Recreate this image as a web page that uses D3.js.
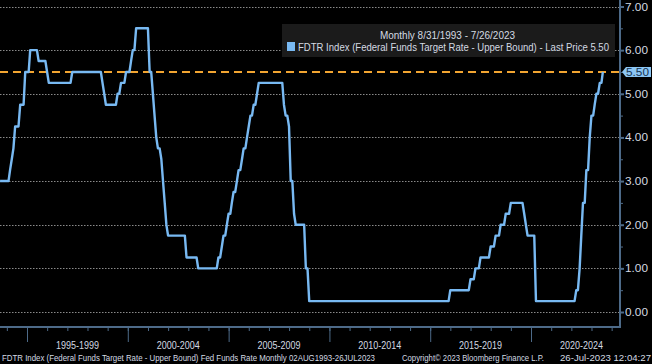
<!DOCTYPE html>
<html>
<head>
<meta charset="utf-8">
<script src="https://cdn.jsdelivr.net/npm/d3@7"></script>
<style>
  html, body { margin: 0; padding: 0; background: #000; }
  svg { display: block; }
  text { font-family: "Liberation Sans", "DejaVu Sans", sans-serif; }
</style>
</head>
<body>
<div id="chart"></div>
<script>
// FDTR month-end values, Aug 1993 .. Jul 2023 (one line per year)
var fdtr = [
  3.00, 3.00, 3.00, 3.00, 3.00,
  3.00, 3.25, 3.50, 3.75, 4.25, 4.25, 4.25, 4.75, 4.75, 4.75, 5.50, 5.50,
  5.50, 6.00, 6.00, 6.00, 6.00, 6.00, 5.75, 5.75, 5.75, 5.75, 5.75, 5.50,
  5.25, 5.25, 5.25, 5.25, 5.25, 5.25, 5.25, 5.25, 5.25, 5.25, 5.25, 5.25,
  5.25, 5.25, 5.50, 5.50, 5.50, 5.50, 5.50, 5.50, 5.50, 5.50, 5.50, 5.50,
  5.50, 5.50, 5.50, 5.50, 5.50, 5.50, 5.50, 5.50, 5.25, 5.00, 4.75, 4.75,
  4.75, 4.75, 4.75, 4.75, 4.75, 5.00, 5.00, 5.25, 5.25, 5.25, 5.50, 5.50,
  5.50, 5.75, 6.00, 6.00, 6.50, 6.50, 6.50, 6.50, 6.50, 6.50, 6.50, 6.50,
  5.50, 5.50, 5.00, 4.50, 4.00, 3.75, 3.75, 3.50, 3.00, 2.50, 2.00, 1.75,
  1.75, 1.75, 1.75, 1.75, 1.75, 1.75, 1.75, 1.75, 1.75, 1.75, 1.25, 1.25,
  1.25, 1.25, 1.25, 1.25, 1.25, 1.00, 1.00, 1.00, 1.00, 1.00, 1.00, 1.00,
  1.00, 1.00, 1.00, 1.00, 1.00, 1.25, 1.25, 1.50, 1.75, 1.75, 2.00, 2.25,
  2.25, 2.50, 2.75, 2.75, 3.00, 3.25, 3.25, 3.50, 3.75, 3.75, 4.00, 4.25,
  4.50, 4.50, 4.75, 4.75, 5.00, 5.25, 5.25, 5.25, 5.25, 5.25, 5.25, 5.25,
  5.25, 5.25, 5.25, 5.25, 5.25, 5.25, 5.25, 5.25, 4.75, 4.50, 4.50, 4.25,
  3.00, 3.00, 2.25, 2.00, 2.00, 2.00, 2.00, 2.00, 2.00, 1.00, 1.00, 0.25,
  0.25, 0.25, 0.25, 0.25, 0.25, 0.25, 0.25, 0.25, 0.25, 0.25, 0.25, 0.25,
  0.25, 0.25, 0.25, 0.25, 0.25, 0.25, 0.25, 0.25, 0.25, 0.25, 0.25, 0.25,
  0.25, 0.25, 0.25, 0.25, 0.25, 0.25, 0.25, 0.25, 0.25, 0.25, 0.25, 0.25,
  0.25, 0.25, 0.25, 0.25, 0.25, 0.25, 0.25, 0.25, 0.25, 0.25, 0.25, 0.25,
  0.25, 0.25, 0.25, 0.25, 0.25, 0.25, 0.25, 0.25, 0.25, 0.25, 0.25, 0.25,
  0.25, 0.25, 0.25, 0.25, 0.25, 0.25, 0.25, 0.25, 0.25, 0.25, 0.25, 0.25,
  0.25, 0.25, 0.25, 0.25, 0.25, 0.25, 0.25, 0.25, 0.25, 0.25, 0.25, 0.50,
  0.50, 0.50, 0.50, 0.50, 0.50, 0.50, 0.50, 0.50, 0.50, 0.50, 0.50, 0.75,
  0.75, 0.75, 1.00, 1.00, 1.00, 1.25, 1.25, 1.25, 1.25, 1.25, 1.25, 1.50,
  1.50, 1.50, 1.75, 1.75, 1.75, 2.00, 2.00, 2.00, 2.25, 2.25, 2.25, 2.50,
  2.50, 2.50, 2.50, 2.50, 2.50, 2.50, 2.50, 2.25, 2.00, 1.75, 1.75, 1.75,
  1.75, 1.75, 0.25, 0.25, 0.25, 0.25, 0.25, 0.25, 0.25, 0.25, 0.25, 0.25,
  0.25, 0.25, 0.25, 0.25, 0.25, 0.25, 0.25, 0.25, 0.25, 0.25, 0.25, 0.25,
  0.25, 0.25, 0.50, 0.50, 1.00, 1.75, 2.50, 2.50, 3.25, 3.25, 4.00, 4.50,
  4.50, 4.75, 5.00, 5.00, 5.25, 5.25, 5.50
];
var periodLabels = ["1995-1999", "2000-2004", "2005-2009", "2010-2014", "2015-2019", "2020-2024"];
var periodStarts = [1995, 2000, 2005, 2010, 2015, 2020, 2025];
var yTicks = [0, 1, 2, 3, 4, 5, 6, 7];
var yMinor = [0.5, 1.5, 2.5, 3.5, 4.5, 5.5, 6.5];
var lastPrice = 5.50;
var legendTitle = "Monthly 8/31/1993 - 7/26/2023";
var legendText = "FDTR Index (Federal Funds Target Rate - Upper Bound) - Last Price 5.50";
var footerLeft = "FDTR Index (Federal Funds Target Rate - Upper Bound) Fed Funds Rate  Monthly 02AUG1993-26JUL2023";
var footerMid = "Copyright\u00a9 2023 Bloomberg Finance L.P.";
var footerRight = "26-Jul-2023 12:04:27";

var svgWidth = 652;
var svgHeight = 364;
var axisX = 620;     // right value axis
var axisY = 327;     // bottom time axis

var lineColor = "#78b9f2";
var textColor = "#d4dae2";
var axisColor = "#4d6a88";

var svg = d3.select("#chart").append("svg")
  .attr("width", svgWidth)
  .attr("height", svgHeight)
  .style("background", "#000");

// narrow text: squeeze to the width seen in the picture
function narrow(sel, w) {
  sel.attr("textLength", w).attr("lengthAdjust", "spacingAndGlyphs");
}

// month-end dates, last point is the print date
var data = fdtr.map(function(v, i) {
  var d = new Date(1993, 7 + i + 1, 0);
  if (i === fdtr.length - 1) d = new Date(2023, 6, 26);
  return { date: d, value: v };
});

var x = d3.scaleTime()
  .domain([new Date(1995, 0, 1), new Date(2020, 0, 1)])
  .range([27, 531]);

var y = d3.scaleLinear()
  .domain([0, 7])
  .range([312, 6.5]);

// gridlines
svg.append("g").selectAll("line")
  .data(yTicks)
  .enter().append("line")
  .attr("x1", 0)
  .attr("x2", axisX)
  .attr("y1", d => Math.round(y(d)) + 0.5)
  .attr("y2", d => Math.round(y(d)) + 0.5)
  .attr("stroke", "#8a8a8a")
  .attr("stroke-width", 1)
  .attr("stroke-dasharray", "1.5,1.5");

// legend box
var legend = svg.append("g");
legend.append("rect")
  .attr("x", 282).attr("y", 24)
  .attr("width", 333).attr("height", 33)
  .attr("fill", "#1b1b1b");
legend.append("text")
  .attr("x", 380).attr("y", 39)
  .attr("fill", textColor)
  .attr("font-size", 11)
  .text(legendTitle)
  .call(narrow, 135);
legend.append("rect")
  .attr("x", 287).attr("y", 42)
  .attr("width", 8).attr("height", 9)
  .attr("fill", lineColor);
legend.append("text")
  .attr("x", 298).attr("y", 51)
  .attr("fill", textColor)
  .attr("font-size", 11)
  .text(legendText)
  .call(narrow, 311);

// last price dashed line
svg.append("line")
  .attr("x1", 0)
  .attr("x2", axisX)
  .attr("y1", y(lastPrice))
  .attr("y2", y(lastPrice))
  .attr("stroke", "#f2a531")
  .attr("stroke-width", 2)
  .attr("stroke-dasharray", "8,5");

// series
var line = d3.line()
  .x(d => x(d.date))
  .y(d => y(d.value));

svg.append("path")
  .datum(data)
  .attr("fill", "none")
  .attr("stroke", lineColor)
  .attr("stroke-width", 2.4)
  .attr("stroke-linejoin", "round")
  .attr("d", line);

// right axis
var rightAxis = d3.axisRight(y)
  .tickValues(yTicks)
  .tickSize(4)
  .tickFormat(d3.format(".2f"));

var yAxisG = svg.append("g")
  .attr("transform", `translate(${axisX}, 0)`)
  .call(rightAxis);
yAxisG.select(".domain").remove();
yAxisG.selectAll("line").attr("stroke", axisColor).attr("stroke-width", 2);
yAxisG.selectAll("text")
  .attr("fill", textColor)
  .attr("font-size", 11)
  .attr("x", 5)
  .call(narrow, 23);

var yMinorG = svg.append("g")
  .attr("transform", `translate(${axisX}, 0)`)
  .call(d3.axisRight(y).tickValues(yMinor).tickSize(3).tickFormat(""));
yMinorG.select(".domain").remove();
yMinorG.selectAll("line").attr("stroke", axisColor);

svg.append("line")
  .attr("x1", axisX).attr("x2", axisX)
  .attr("y1", 0).attr("y2", axisY)
  .attr("stroke", axisColor)
  .attr("stroke-width", 2);

// last price tag
var tagY = y(lastPrice);
svg.append("path")
  .attr("d", `M${axisX + 2},${tagY} L${axisX + 6},${tagY - 5} L651,${tagY - 5} L651,${tagY + 5} L${axisX + 6},${tagY + 5} Z`)
  .attr("fill", "#8cc6f4");
svg.append("text")
  .attr("x", axisX + 6)
  .attr("y", tagY + 4)
  .attr("fill", "#17324f")
  .attr("font-size", 11)
  .text(d3.format(".2f")(lastPrice))
  .call(narrow, 23);

// bottom time axis
var yearTicks = d3.range(1994, 2025).map(yr => new Date(yr, 0, 1));
var bottomMinor = d3.axisBottom(x)
  .tickValues(yearTicks)
  .tickSize(4)
  .tickFormat("");
var xMinorG = svg.append("g")
  .attr("transform", `translate(0, ${axisY})`)
  .call(bottomMinor);
xMinorG.select(".domain").remove();
xMinorG.selectAll("line").attr("stroke", axisColor);

var bottomMajor = d3.axisBottom(x)
  .tickValues(periodStarts.slice(0, 6).map(yr => new Date(yr, 0, 1)))
  .tickSize(15)
  .tickFormat("");
var xMajorG = svg.append("g")
  .attr("transform", `translate(0, ${axisY})`)
  .call(bottomMajor);
xMajorG.select(".domain").remove();
xMajorG.selectAll("line").attr("stroke", axisColor);

svg.append("line")
  .attr("x1", 0).attr("x2", axisX + 1)
  .attr("y1", axisY).attr("y2", axisY)
  .attr("stroke", axisColor)
  .attr("stroke-width", 2);

svg.append("g").selectAll("text")
  .data(periodLabels)
  .enter().append("text")
  .attr("x", (d, i) => (x(new Date(periodStarts[i], 0, 1)) + x(new Date(periodStarts[i + 1], 0, 1))) / 2 - 21.5)
  .attr("y", 349)
  .attr("fill", textColor)
  .attr("font-size", 11)
  .text(d => d)
  .call(narrow, 43);

// footer
svg.append("text")
  .attr("x", 2).attr("y", 361)
  .attr("fill", textColor)
  .attr("font-size", 9)
  .text(footerLeft)
  .call(narrow, 373);
svg.append("text")
  .attr("x", 402).attr("y", 361)
  .attr("fill", textColor)
  .attr("font-size", 9)
  .text(footerMid)
  .call(narrow, 142);
svg.append("text")
  .attr("x", 560).attr("y", 361)
  .attr("fill", textColor)
  .attr("font-size", 9)
  .text(footerRight)
  .call(narrow, 91);
</script>
</body>
</html>
